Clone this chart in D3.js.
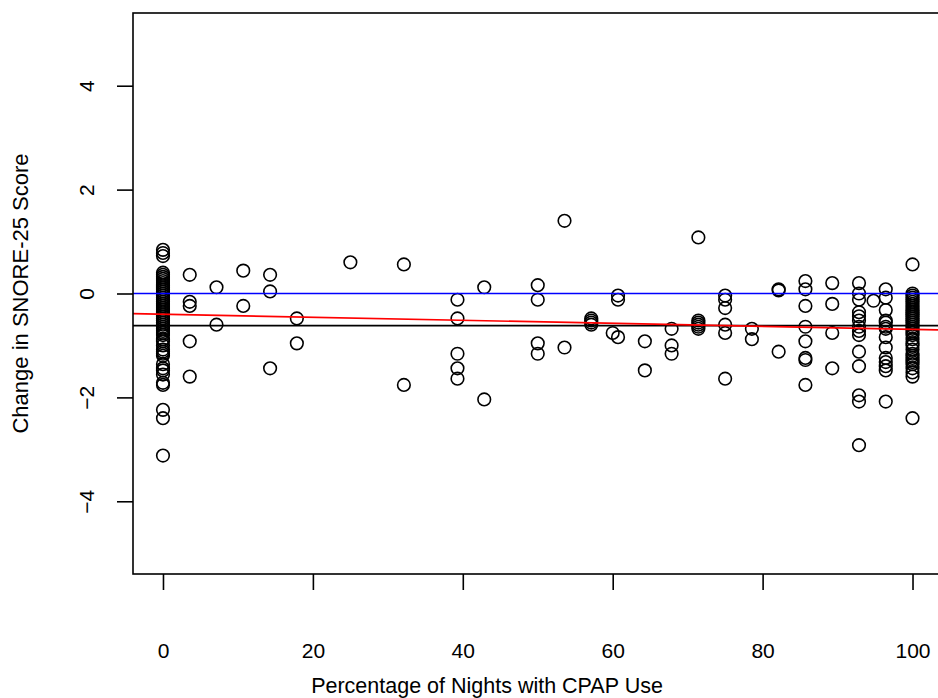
<!DOCTYPE html>
<html>
<head>
<meta charset="utf-8">
<script src="https://cdn.jsdelivr.net/npm/d3@7"></script>
<style>
  body { margin: 0; background: #fff; }
  svg { display: block; font-family: "Liberation Sans", Arial, sans-serif; }
</style>
</head>
<body>
<div class="chart"></div>
<script>
// percentage of nights with CPAP use (one entry per column of points)
var cpapPct = [0, 3.57, 7.14, 10.71, 14.29, 17.86, 25, 32.14, 39.29, 42.86, 50, 53.57,
  57.14, 60, 60.71, 64.29, 67.86, 71.43, 75, 78.57, 82.14, 85.71, 89.29, 92.86, 94.8, 96.43, 100];

// change in SNORE-25 score for the patients in each column above
var scoreChange = [
  [0.84, 0.78, 0.72, 0.40, 0.36, 0.32, 0.28, 0.24, 0.20, 0.16, 0.12, 0.08, 0.04, 0.00, -0.04,
   -0.08, -0.12, -0.16, -0.20, -0.24, -0.28, -0.32, -0.36, -0.40, -0.44, -0.48, -0.52, -0.56,
   -0.60, -0.64, -0.68, -0.72, -0.76, -0.80, -0.88, -0.92, -1.00, -1.08, -1.12, -1.16, -1.20,
   -1.36, -1.44, -1.48, -1.56, -1.72, -1.76, -2.24, -2.40, -3.12],
  [0.36, -0.16, -0.24, -0.92, -1.60],
  [0.12, -0.60],
  [0.44, -0.24],
  [0.36, 0.04, -1.44],
  [-0.48, -0.96],
  [0.60],
  [0.56, -1.76],
  [-0.12, -0.48, -1.16, -1.44, -1.64],
  [0.12, -2.04],
  [0.16, -0.12, -0.96, -1.16],
  [1.40, -1.04],
  [-0.48, -0.52, -0.56, -0.60],
  [-0.76],
  [-0.04, -0.12, -0.84],
  [-0.92, -1.48],
  [-0.68, -1.00, -1.16],
  [1.08, -0.52, -0.56, -0.60, -0.64, -0.68],
  [-0.04, -0.12, -0.28, -0.60, -0.76, -1.64],
  [-0.68, -0.88],
  [0.08, 0.06, -1.12],
  [0.24, 0.08, -0.24, -0.64, -0.92, -1.24, -1.28, -1.76],
  [0.20, -0.20, -0.76, -1.44],
  [0.20, 0.00, -0.12, -0.36, -0.44, -0.52, -0.64, -0.72, -0.80, -1.12, -1.40, -1.96, -2.08, -2.92],
  [-0.14],
  [0.08, -0.08, -0.32, -0.52, -0.56, -0.64, -0.68, -0.84, -1.04, -1.24, -1.32, -1.40, -1.48, -2.08],
  [0.56, 0.00, -0.04, -0.08, -0.12, -0.16, -0.20, -0.24, -0.28, -0.32, -0.36, -0.40, -0.44,
   -0.48, -0.52, -0.56, -0.60, -0.64, -0.68, -0.72, -0.76, -0.80, -0.88, -0.96, -1.00, -1.08,
   -1.16, -1.20, -1.24, -1.28, -1.32, -1.36, -1.44, -1.52, -1.60, -2.40]
];

var xTicks = [0, 20, 40, 60, 80, 100];
var yTicks = [-4, -2, 0, 2, 4];

// reference lines: zero, mean change, fitted regression
var zeroLine = 0;
var meanChange = -0.62;
var fitIntercept = -0.40;
var fitSlope = -0.0029;

var points = [];
cpapPct.forEach(function(p, i) {
  scoreChange[i].forEach(function(v) {
    points.push({ pct: p, change: v });
  });
});

var svgWidth = 938;
var svgHeight = 698;
var margin = { top: 13, left: 133, bottom: 124 };
var plotRight = 942.5;
var plotBottom = svgHeight - margin.bottom;

var x = d3.scaleLinear().domain([-4, 104]).range([margin.left, plotRight]);
var y = d3.scaleLinear().domain([-5.4, 5.4]).range([plotBottom, margin.top]);

var svg = d3.select(".chart").append("svg")
  .attr("width", svgWidth)
  .attr("height", svgHeight);

svg.append("clipPath").attr("id", "plotclip")
  .append("rect")
  .attr("x", margin.left).attr("y", margin.top)
  .attr("width", plotRight - margin.left).attr("height", plotBottom - margin.top);

var plot = svg.append("g").attr("clip-path", "url(#plotclip)");

// points
plot.selectAll("circle")
  .data(points)
  .enter()
  .append("circle")
  .attr("cx", function(d) { return x(d.pct); })
  .attr("cy", function(d) { return y(d.change); })
  .attr("r", 6.3)
  .attr("fill", "none")
  .attr("stroke", "#000")
  .attr("stroke-width", 1.6);

// horizontal lines
plot.append("line")
  .attr("x1", margin.left).attr("x2", plotRight)
  .attr("y1", y(zeroLine)).attr("y2", y(zeroLine))
  .attr("stroke", "#0000ff").attr("stroke-width", 1.7);

plot.append("line")
  .attr("x1", margin.left).attr("x2", plotRight)
  .attr("y1", y(meanChange)).attr("y2", y(meanChange))
  .attr("stroke", "#000").attr("stroke-width", 1.7);

// regression line
var xd = x.domain();
plot.append("line")
  .attr("x1", x(xd[0])).attr("x2", x(xd[1]))
  .attr("y1", y(fitIntercept + fitSlope * xd[0]))
  .attr("y2", y(fitIntercept + fitSlope * xd[1]))
  .attr("stroke", "#ff0000").attr("stroke-width", 1.7);

// box
svg.append("rect")
  .attr("x", margin.left).attr("y", margin.top)
  .attr("width", plotRight - margin.left).attr("height", plotBottom - margin.top)
  .attr("fill", "none").attr("stroke", "#000").attr("stroke-width", 1.6);

// axes
var bottomAxis = d3.axisBottom(x).tickValues(xTicks).tickSize(16).tickFormat(d3.format("d"));
var leftAxis = d3.axisLeft(y).tickValues(yTicks).tickSize(16).tickFormat(d3.format("d"));

var gx = svg.append("g")
  .attr("transform", "translate(0," + plotBottom + ")")
  .call(bottomAxis);
gx.select(".domain").remove();
gx.selectAll(".tick line").attr("stroke-width", 1.6);
gx.selectAll("text")
  .attr("dy", null)
  .attr("y", 78)
  .attr("dominant-baseline", "middle")
  .style("font-size", "21px")
  .style("font-family", "Liberation Sans, Arial, sans-serif");

var gy = svg.append("g")
  .attr("transform", "translate(" + margin.left + ",0)")
  .call(leftAxis);
gy.select(".domain").remove();
gy.selectAll(".tick line").attr("stroke-width", 1.6);
gy.selectAll("text")
  .attr("x", null).attr("dy", null)
  .attr("text-anchor", "middle")
  .attr("dominant-baseline", "middle")
  .attr("transform", "translate(-45,0) rotate(-90)")
  .style("font-size", "21px")
  .style("font-family", "Liberation Sans, Arial, sans-serif");

// axis titles
svg.append("text")
  .attr("x", 487)
  .attr("y", 687)
  .attr("text-anchor", "middle")
  .attr("dominant-baseline", "middle")
  .style("font-size", "21.5px")
  .text("Percentage of Nights with CPAP Use");

svg.append("text")
  .attr("transform", "translate(22," + y(0) + ") rotate(-90)")
  .attr("text-anchor", "middle")
  .attr("dominant-baseline", "middle")
  .style("font-size", "22px")
  .text("Change in SNORE-25 Score");
</script>
</body>
</html>
